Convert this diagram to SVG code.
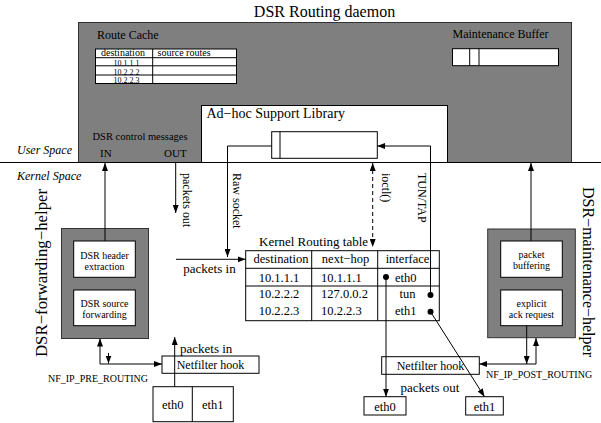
<svg xmlns="http://www.w3.org/2000/svg" width="601" height="423" viewBox="0 0 601 423">
  <style>
    text { font-family: "Liberation Serif", "Times New Roman", serif; fill: #000; }
    .it { font-style: italic; }
    .mid { text-anchor: middle; }
    .box { fill: #fff; stroke: #000; stroke-width: 1; }
    .grey { fill: #7f7f7f; stroke: #333; stroke-width: 1; }
    .ln { fill: none; stroke: #000; stroke-width: 1; }
    .arr { marker-end: url(#ah); }
    .dash { stroke-dasharray: 4 3; }
    .dot { fill: #000; }
  </style>
  <defs>
    <marker id="ah" viewBox="0 0 8 6" refX="8" refY="3" markerWidth="8" markerHeight="6" markerUnits="userSpaceOnUse" orient="auto-start-reverse">
      <path d="M0,0 L8,3 L0,6 z" fill="#000"/>
    </marker>
  </defs>

  <rect width="601" height="423" fill="#fff"/>

  <!-- user-space daemon -->
  <g id="daemon">
    <text x="324.5" y="17" class="mid" font-size="16">DSR Routing daemon</text>
    <rect x="78.5" y="22.5" width="493" height="140" class="grey"/>
  </g>

  <g id="route-cache">
    <text x="97" y="39" font-size="12">Route Cache</text>
    <rect x="95.5" y="49" width="141" height="34.5" class="box"/>
    <path class="ln" d="M95.5,57.7 H236.5 M95.5,65.8 H236.5 M95.5,75 H236.5 M152.7,49 V83.5"/>
    <text x="101" y="56.3" font-size="10">destination</text>
    <text x="157.5" y="56.3" font-size="10">source routes</text>
    <text x="126.5" y="65.8" class="mid" font-size="8">10.1.1.1</text>
    <text x="126.5" y="74.8" class="mid" font-size="8">10.2.2.2</text>
    <text x="126.5" y="83.2" class="mid" font-size="8">10.2.2.3</text>
  </g>

  <g id="maintenance-buffer">
    <text x="452.5" y="38" font-size="12">Maintenance Buffer</text>
    <rect x="452.5" y="48.7" width="106" height="17" class="box"/>
    <path class="ln" d="M469.7,48.7 V65.7 M479,48.7 V65.7"/>
  </g>

  <g id="adhoc-library">
    <rect x="201.5" y="105.5" width="246" height="57" class="box"/>
    <text x="206.5" y="118" font-size="14">Ad−hoc Support Library</text>
    <rect x="271.7" y="131.7" width="105.6" height="26.6" class="box"/>
    <path class="ln" d="M280,131.7 V158.3"/>
  </g>

  <g id="control-messages">
    <text x="92.5" y="140" font-size="10.5">DSR control messages</text>
    <text x="100" y="157" font-size="11">IN</text>
    <text x="164" y="157" font-size="11">OUT</text>
  </g>

  <!-- user / kernel boundary -->
  <g id="boundary">
    <line x1="0" y1="162.5" x2="601" y2="162.5" class="ln"/>
    <text x="17" y="154" class="it" font-size="12">User Space</text>
    <text x="17" y="180" class="it" font-size="12">Kernel Space</text>
  </g>

  <!-- forwarding helper module -->
  <g id="forwarding-helper">
    <text transform="translate(47,357) rotate(-90)" font-size="16.8">DSR−forwarding−helper</text>
    <rect x="61.5" y="228.5" width="87" height="110" class="grey"/>
    <rect x="73.7" y="241" width="61.6" height="36.3" class="box"/>
    <text x="104.5" y="258.5" class="mid" font-size="10">DSR header</text>
    <text x="104.5" y="269.7" class="mid" font-size="10">extraction</text>
    <rect x="73.7" y="290" width="61.6" height="35.7" class="box"/>
    <text x="104.5" y="307" class="mid" font-size="10">DSR source</text>
    <text x="104.5" y="318.2" class="mid" font-size="10">forwarding</text>
  </g>

  <!-- maintenance helper module -->
  <g id="maintenance-helper">
    <text transform="translate(583,187) rotate(90)" font-size="16">DSR−maintenance−helper</text>
    <rect x="487.7" y="229" width="87.6" height="108.7" class="grey"/>
    <rect x="500.7" y="241" width="61.6" height="36.3" class="box"/>
    <text x="531.5" y="257.5" class="mid" font-size="10">packet</text>
    <text x="531.5" y="268.7" class="mid" font-size="10">buffering</text>
    <rect x="500.7" y="290" width="61.6" height="35.7" class="box"/>
    <text x="531.5" y="307" class="mid" font-size="10">explicit</text>
    <text x="531.5" y="318.2" class="mid" font-size="10">ack request</text>
  </g>

  <!-- kernel routing table -->
  <g id="kernel-table">
    <text x="259" y="246" font-size="13">Kernel Routing table</text>
    <rect x="245.7" y="250.7" width="193.6" height="70" class="box"/>
    <path class="ln" d="M245.7,268.3 H439.3 M245.7,286 H439.3 M311.7,250.7 V320.7 M377.7,250.7 V320.7"/>
    <text x="281" y="263.3" class="mid" font-size="12.5">destination</text>
    <text x="345.5" y="263.3" class="mid" font-size="12.5">next−hop</text>
    <text x="407.5" y="263.3" class="mid" font-size="12.5">interface</text>
    <text x="279" y="281.7" class="mid" font-size="12.5">10.1.1.1</text>
    <text x="321" y="281.7" font-size="12.5">10.1.1.1</text>
    <text x="395" y="281.7" font-size="12.5">eth0</text>
    <text x="279" y="298.3" class="mid" font-size="12.5">10.2.2.2</text>
    <text x="321" y="298.3" font-size="12.5">127.0.0.2</text>
    <text x="399.5" y="298.3" font-size="12.5">tun</text>
    <text x="279" y="315" class="mid" font-size="12.5">10.2.2.3</text>
    <text x="321" y="315" font-size="12.5">10.2.2.3</text>
    <text x="395" y="315" font-size="12.5">eth1</text>
    <circle cx="386" cy="277" r="3" class="dot"/>
    <circle cx="430.5" cy="295" r="3" class="dot"/>
    <circle cx="430.5" cy="311.7" r="3" class="dot"/>
  </g>

  <!-- netfilter hooks and interfaces -->
  <g id="netfilter-in">
    <rect x="162" y="356" width="97" height="17.3" class="box"/>
    <text x="210.5" y="369" class="mid" font-size="12">Netfilter hook</text>
    <text x="180" y="352.7" font-size="13">packets in</text>
    <text x="48" y="382" font-size="10">NF_IP_PRE_ROUTING</text>
  </g>
  <g id="ifaces-in">
    <rect x="153" y="386.7" width="80.3" height="35" class="box"/>
    <path class="ln" d="M192.3,386.7 V421.7"/>
    <text x="172.7" y="408.5" class="mid" font-size="12.5">eth0</text>
    <text x="212.8" y="408.5" class="mid" font-size="12.5">eth1</text>
  </g>
  <g id="netfilter-out">
    <rect x="381.7" y="356.7" width="97.6" height="17.6" class="box"/>
    <text x="430.5" y="369.5" class="mid" font-size="12">Netfilter hook</text>
    <text x="400.5" y="392" font-size="13">packets out</text>
    <text x="486" y="378" font-size="10">NF_IP_POST_ROUTING</text>
  </g>
  <g id="eth0-out">
    <rect x="364" y="396.7" width="42" height="18.3" class="box"/>
    <text x="385" y="410.5" class="mid" font-size="12.5">eth0</text>
  </g>
  <g id="eth1-out">
    <rect x="465.7" y="396.7" width="37.6" height="18.3" class="box"/>
    <text x="484.5" y="410.5" class="mid" font-size="12.5">eth1</text>
  </g>

  <!-- connectors -->
  <g id="connectors">
    <path class="ln arr" d="M105,241 V163"/>
    <path class="ln arr" d="M175.7,163 V213"/>
    <path class="ln arr" d="M271.7,146 H227.5 V257"/>
    <path class="ln arr" d="M176,259.3 H245.7"/>
    <path class="ln dash" d="M372.7,163 V247" marker-start="url(#ah)" marker-end="url(#ah)"/>
    <path class="ln arr" d="M430.5,295 V146 H377.3"/>
    <path class="ln arr" d="M386,277 V396.7"/>
    <path class="ln arr" d="M430.5,311.7 L484.5,396.7"/>
    <path class="ln arr" d="M531,241 V163"/>
    <path class="ln arr" d="M526.7,325.7 V364"/>
    <path class="ln arr" d="M536,364 V338"/>
    <path class="ln arr" d="M536,364 H479.3"/>
    <path class="ln arr" d="M100,364 V338.5"/>
    <path class="ln arr" d="M100,364 H162"/>
    <path class="ln arr" d="M108.5,353 V363.5"/>
    <path class="ln arr" d="M174.7,386.7 V337"/>
    <text transform="translate(183,173) rotate(90)" font-size="12">packets out</text>
    <text transform="translate(232.5,173) rotate(90)" font-size="12">Raw socket</text>
    <text transform="translate(382,173) rotate(90)" font-size="12">ioctl()</text>
    <text transform="translate(417.5,173) rotate(90)" font-size="12">TUN/TAP</text>
    <text x="183.3" y="273" font-size="13">packets in</text>
  </g>
</svg>
